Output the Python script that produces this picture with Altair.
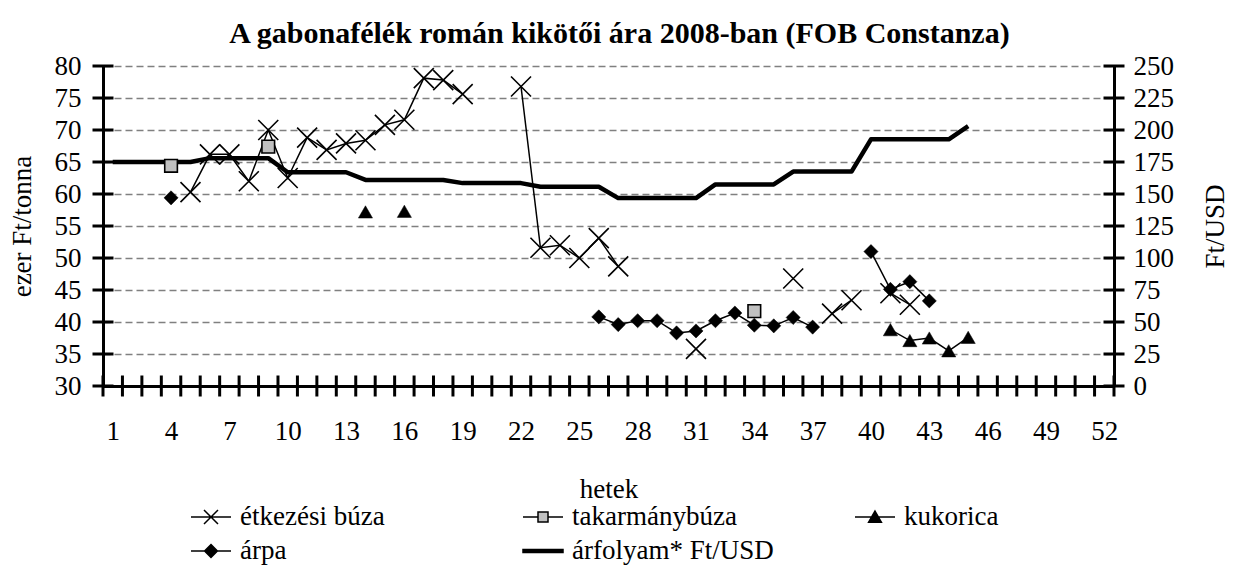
import altair as alt
import pandas as pd

FONT = "Liberation Serif"
FS = 27

title_text = "A gabonafélék román kikötői ára 2008-ban (FOB Constanza)"
x_title = "hetek"
y_left_title = "ezer Ft/tonna"
y_right_title = "Ft/USD"

series_names = ["étkezési búza", "takarmánybúza", "kukorica", "árpa", "árfolyam* Ft/USD"]

# étkezési búza (ezer Ft/tonna)
etk_weeks = [5, 6, 7, 8, 9, 10, 11, 12, 13, 14, 15, 16, 17, 18, 19,
             22, 23, 24, 25, 26, 27, 31, 36, 38, 39, 41, 42]
etk_vals = [60.3, 66.2, 66.2, 62.0, 70.0, 62.5, 68.8, 66.9, 67.9, 68.4, 70.8, 71.6, 78.1, 77.8, 75.6,
            76.8, 51.6, 52.0, 50.0, 53.1, 48.7, 35.8, 46.8, 41.3, 43.4, 44.5, 42.7]

# takarmánybúza
tak_weeks = [4, 9, 34]
tak_vals = [64.4, 67.4, 41.7]

# kukorica
kuk_weeks = [14, 16, 41, 42, 43, 44, 45]
kuk_vals = [57.2, 57.3, 38.8, 37.1, 37.5, 35.5, 37.6]

# árpa
arp_weeks = [4, 26, 27, 28, 29, 30, 31, 32, 33, 34, 35, 36, 37, 40, 41, 42, 43]
arp_vals = [59.4, 40.8, 39.6, 40.2, 40.2, 38.3, 38.6, 40.2, 41.4, 39.5, 39.4, 40.7, 39.2,
            51.0, 45.1, 46.3, 43.3]

# árfolyam Ft/USD (jobb tengely)
rate_weeks = list(range(1, 46))
rate_vals = [175, 175, 175, 175, 175,
             178, 178, 178, 178,
             167, 167, 167, 167,
             161, 161, 161, 161, 161,
             158.5, 158.5, 158.5, 158.5,
             155.7, 155.7, 155.7, 155.7,
             146.8, 146.8, 146.8, 146.8, 146.8,
             157.5, 157.5, 157.5, 157.5,
             167.5, 167.5, 167.5, 167.5,
             192.7, 192.7, 192.7, 192.7, 192.7,
             203]

x_label_values = list(range(1, 53, 3))
left_tick_values = [30, 35, 40, 45, 50, 55, 60, 65, 70, 75, 80]
right_tick_values = [0, 25, 50, 75, 100, 125, 150, 175, 200, 225, 250]
week_bounds = [w + 0.5 for w in range(0, 53)]

legend_paths = [
    "M-1,0H1M-0.35,-0.35L0.35,0.35M-0.35,0.35L0.35,-0.35",
    "M-1,0H-0.25M0.25,0H1M-0.25,-0.25H0.25V0.25H-0.25Z",
    "M-1,0H1M0,-0.3L0.32,0.26L-0.32,0.26Z",
    "M-1,0H1M0,-0.32L0.32,0L0,0.32L-0.32,0Z",
    "M-1,-0.075H1V0.075H-1Z",
]
legend_fills = ["black", "#c0c0c0", "black", "black", "black"]
legend_strokes = ["black", "black", "black", "black", "black"]


def frame(weeks, vals):
    seg, s = [], 0
    for i, w in enumerate(weeks):
        if i > 0 and w - weeks[i - 1] > 1:
            s += 1
        seg.append(s)
    return pd.DataFrame({"week": weeks, "value": vals, "seg": seg})


etk_df = frame(etk_weeks, etk_vals)
tak_df = frame(tak_weeks, tak_vals)
kuk_df = frame(kuk_weeks, kuk_vals)
arp_df = frame(arp_weeks, arp_vals)
rate_df = frame(rate_weeks, rate_vals)

x_scale = alt.Scale(domain=[0.5, 52.5], nice=False, zero=False)
yl_scale = alt.Scale(domain=[30, 80], nice=False, zero=False)
yr_scale = alt.Scale(domain=[0, 250], nice=False, zero=True)

x_axis = alt.Axis(
    values=x_label_values, ticks=False, grid=False, domain=True,
    domainColor="black", domainWidth=3, labelFont=FONT, labelFontSize=FS,
    labelColor="black", labelPadding=32, labelFlush=False,
    title=x_title, titleFont=FONT, titleFontSize=FS, titleFontWeight="normal",
    titleColor="black", titleX=505.5, titleY=103, titleAlign="center",
    titleBaseline="middle",
)
yl_axis = alt.Axis(
    orient="left", values=left_tick_values, ticks=False, grid=True,
    gridDash=[7, 4], gridColor="#808080", gridWidth=1.3,
    domain=True, domainColor="black", domainWidth=3,
    labelFont=FONT, labelFontSize=FS, labelColor="black", labelPadding=22,
    title=y_left_title, titleFont=FONT, titleFontSize=FS, titleFontWeight="normal",
    titleColor="black", titleAngle=270, titleX=-81, titleY=160,
    titleAlign="center", titleBaseline="middle",
)
yr_axis = alt.Axis(
    orient="right", values=right_tick_values, ticks=False, grid=False,
    domain=True, domainColor="black", domainWidth=3,
    labelFont=FONT, labelFontSize=FS, labelColor="black", labelPadding=19,
    title=y_right_title, titleFont=FONT, titleFontSize=FS, titleFontWeight="normal",
    titleColor="black", titleAngle=270, titleX=101, titleY=160,
    titleAlign="center", titleBaseline="middle",
)

X = alt.X("week:Q", scale=x_scale, axis=x_axis)
YL = alt.Y("value:Q", scale=yl_scale, axis=yl_axis)
YR = alt.Y("value:Q", scale=yr_scale, axis=yr_axis)

# Left-axis group
etk_line = alt.Chart(etk_df).mark_line(color="black", strokeWidth=1.5).encode(x=X, y=YL, detail="seg:N")
kuk_line = alt.Chart(kuk_df).mark_line(color="black", strokeWidth=1.5).encode(x=X, y=YL, detail="seg:N")
arp_line = alt.Chart(arp_df).mark_line(color="black", strokeWidth=1.5).encode(x=X, y=YL, detail="seg:N")

etk_pts = alt.Chart(etk_df).mark_point(
    shape="M-1,-1L1,1M-1,1L1,-1", size=400, filled=False, stroke="black", strokeWidth=1.6, opacity=1
).encode(x=X, y=YL)
tak_pts = alt.Chart(tak_df).mark_point(
    shape="square", size=160, filled=True, fill="#c0c0c0", stroke="black", strokeWidth=1.6, opacity=1
).encode(x=X, y=YL)
kuk_pts = alt.Chart(kuk_df).mark_point(
    shape="triangle-up", size=200, filled=True, fill="black", stroke="black", strokeWidth=0.5, opacity=1
).encode(x=X, y=YL)
arp_pts = alt.Chart(arp_df).mark_point(
    shape="diamond", size=200, filled=True, fill="black", stroke="black", strokeWidth=0.5, opacity=1
).encode(x=X, y=YL)

left_ticks = alt.Chart(pd.DataFrame({"week": [week_bounds[0]] * len(left_tick_values),
                                     "value": left_tick_values})).mark_tick(
    orient="horizontal", size=21, thickness=3, color="black", opacity=1
).encode(x=X, y=YL)
bottom_ticks = alt.Chart(pd.DataFrame({"week": week_bounds,
                                       "value": [left_tick_values[0]] * len(week_bounds)})).mark_tick(
    orient="vertical", size=21, thickness=3, color="black", opacity=1
).encode(x=X, y=YL)

legend_def = alt.Legend(
    title=None, orient="none", legendX=87, legendY=430, columns=3,
    direction="horizontal", gridAlign="all", symbolSize=1600,
    symbolStrokeWidth=1.5,
    labelFont=FONT, labelFontSize=FS, labelColor="black", labelOffset=8,
    labelLimit=500, columnPadding=78, rowPadding=-2, symbolOpacity=1,
)
legend_layer = alt.Chart(pd.DataFrame({"name": series_names})).transform_filter("false").mark_point(
    filled=True, size=1600, strokeWidth=1.5, opacity=1
).encode(
    shape=alt.Shape("name:N", scale=alt.Scale(domain=series_names, range=legend_paths), legend=legend_def),
    fill=alt.Fill("name:N", scale=alt.Scale(domain=series_names, range=legend_fills), legend=legend_def),
    stroke=alt.Stroke("name:N", scale=alt.Scale(domain=series_names, range=legend_strokes), legend=legend_def),
)

left_group = alt.layer(
    etk_line, kuk_line, arp_line, etk_pts, tak_pts, kuk_pts, arp_pts,
    left_ticks, bottom_ticks, legend_layer,
)

# Right-axis group
rate_line = alt.Chart(rate_df).mark_line(color="black", strokeWidth=4.5, strokeJoin="round").encode(
    x=X, y=YR,
)
right_ticks = alt.Chart(pd.DataFrame({"week": [week_bounds[-1]] * len(right_tick_values),
                                      "value": right_tick_values})).mark_tick(
    orient="horizontal", size=21, thickness=3, color="black", opacity=1
).encode(x=X, y=YR)

right_group = alt.layer(rate_line, right_ticks)

chart = alt.layer(right_group, left_group).resolve_scale(y="independent").properties(
    width=1011,
    height=320,
    title=alt.TitleParams(title_text, font=FONT, fontSize=30, fontWeight="bold",
                          color="black", anchor="middle", offset=3, dx=11),
    autosize=alt.AutoSizeParams(type="none"),
    padding={"left": 95, "top": 58, "right": 116, "bottom": 179},
).configure_view(stroke=None)

chart.save("out.html", embed_options={"renderer": "svg", "actions": False})
